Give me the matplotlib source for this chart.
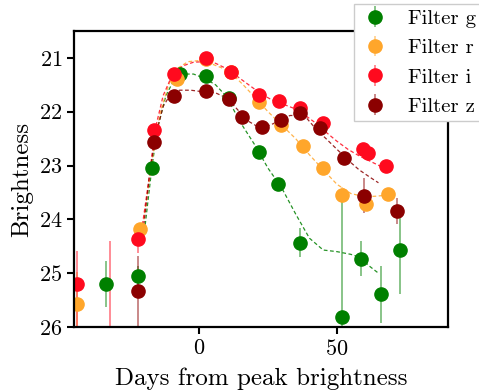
import numpy as np
import matplotlib
matplotlib.use("Agg")
import matplotlib.pyplot as plt

plt.rcParams['font.family'] = ['cmr10', 'DejaVu Serif']
plt.rcParams['mathtext.fontset'] = 'cm'
plt.rcParams['axes.formatter.use_mathtext'] = True

# observed points: days from peak, magnitude, error (towards bright / towards faint)
g_days = [-33.7, -22.0, -17.0, -6.9, 2.5, 10.9, 21.7, 28.6, 36.7, 51.7, 58.8, 65.8, 72.8]
g_mag = [25.20, 25.06, 23.04, 21.30, 21.33, 21.74, 22.75, 23.34, 24.43, 25.82, 24.73, 25.39, 24.57]
g_err_lo = [0.42, 0.20, 0.08, 0.04, 0.04, 0.05, 0.08, 0.10, 0.27, 2.27, 0.33, 0.53, 0.82]
g_err_hi = [0.42, 0.20, 0.08, 0.04, 0.04, 0.05, 0.08, 0.10, 0.27, 2.27, 0.33, 0.53, 0.82]

r_days = [-44.2, -21.4, -8.0, 2.5, 11.6, 21.7, 29.7, 37.7, 44.9, 51.7, 60.5, 68.6]
r_mag = [25.57, 24.18, 21.39, 21.02, 21.27, 21.82, 22.24, 22.64, 23.05, 23.55, 23.71, 23.53]
r_err_lo = [0.60, 0.12, 0.05, 0.04, 0.04, 0.05, 0.06, 0.07, 0.08, 0.15, 0.12, 0.12]
r_err_hi = [0.60, 0.12, 0.05, 0.04, 0.04, 0.05, 0.06, 0.07, 0.08, 0.15, 0.12, 0.12]

i_days = [-44.2, -32.2, -22.0, -16.2, -9.2, 2.5, 11.6, 21.7, 28.9, 36.6, 44.8, 59.3, 61.2, 67.8]
i_mag = [25.20, 26.60, 24.37, 22.34, 21.29, 21.00, 21.27, 21.69, 21.80, 21.94, 22.21, 22.70, 22.77, 23.00]
i_err_lo = [0.61, 2.20, 0.25, 0.05, 0.03, 0.03, 0.03, 0.04, 0.05, 0.05, 0.06, 0.08, 0.08, 0.10]
i_err_hi = [0.85, 0.50, 0.25, 0.05, 0.03, 0.03, 0.03, 0.04, 0.05, 0.05, 0.06, 0.08, 0.08, 0.10]

z_days = [-22.2, -16.2, -9.2, 2.5, 10.9, 15.7, 22.7, 29.7, 36.6, 43.8, 52.5, 59.8, 71.6]
z_mag = [25.34, 22.57, 21.71, 21.61, 21.77, 22.09, 22.29, 22.15, 22.02, 22.31, 22.86, 23.56, 23.84]
z_err_lo = [0.66, 0.06, 0.04, 0.04, 0.04, 0.05, 0.06, 0.07, 0.08, 0.10, 0.12, 0.33, 0.24]
z_err_hi = [0.70, 0.06, 0.04, 0.04, 0.04, 0.05, 0.06, 0.07, 0.08, 0.10, 0.12, 0.33, 0.24]

# fitted light curves (dashed)
g_fit_days = [-19.5, -17, -15, -12, -9, -6, -2, 2, 6, 10, 15, 20, 25, 30, 35, 40, 45, 50, 55, 58, 62, 65]
g_fit_mag = [24.1, 23.0, 22.3, 21.7, 21.4, 21.3, 21.3, 21.38, 21.5, 21.72, 22.2, 22.6, 23.05, 23.42, 23.9, 24.35, 24.57, 24.6, 24.65, 24.7, 24.88, 25.0]

r_fit_days = [-20, -17, -14, -11, -8, -4, 0, 4, 8, 12, 16, 20, 25, 30, 35, 40, 45, 50, 55, 60, 64, 68]
r_fit_mag = [24.0, 22.9, 22.0, 21.5, 21.2, 21.07, 21.05, 21.1, 21.18, 21.3, 21.5, 21.72, 22.0, 22.25, 22.5, 22.8, 23.08, 23.35, 23.52, 23.58, 23.57, 23.55]

i_fit_days = [-20.5, -18, -16, -13, -10, -6, -2, 2, 6, 10, 14, 18, 22, 26, 30, 34, 38, 42, 46, 50, 54, 58, 62, 66]
i_fit_mag = [24.1, 23.2, 22.35, 21.7, 21.35, 21.15, 21.08, 21.07, 21.1, 21.2, 21.35, 21.5, 21.65, 21.77, 21.85, 21.93, 22.05, 22.2, 22.38, 22.55, 22.7, 22.82, 22.92, 23.02]

z_fit_days = [-20, -18, -16, -13, -10, -7, -3, 0, 3, 6, 9, 12, 15, 18, 21, 24, 27, 30, 33, 36, 39, 42, 46, 50, 54, 58, 62, 65]
z_fit_mag = [24.1, 23.2, 22.5, 21.9, 21.65, 21.6, 21.6, 21.62, 21.63, 21.65, 21.72, 21.85, 22.02, 22.18, 22.27, 22.28, 22.22, 22.13, 22.07, 22.07, 22.12, 22.3, 22.5, 22.7, 22.9, 23.08, 23.22, 23.32]

filters = [
    ('g', 'green', g_days, g_mag, g_err_lo, g_err_hi, g_fit_days, g_fit_mag),
    ('r', '#ffa62b', r_days, r_mag, r_err_lo, r_err_hi, r_fit_days, r_fit_mag),
    ('i', '#ff0a1e', i_days, i_mag, i_err_lo, i_err_hi, i_fit_days, i_fit_mag),
    ('z', '#8b0000', z_days, z_mag, z_err_lo, z_err_hi, z_fit_days, z_fit_mag),
]

fig = plt.figure(figsize=(4.79, 3.91), dpi=100)
ax = fig.add_axes([74 / 479, 1 - 327 / 391, 374 / 479, 296 / 391])

for name, color, days, mag, lo, hi, fdays, fmag in filters:
    ax.plot(fdays, fmag, linestyle=(0, (3, 2)), color=color, linewidth=0.9, alpha=0.85)
    eb = ax.errorbar(days, mag, yerr=[lo, hi], fmt='o', color=color, markersize=9.5,
                     ecolor=color, elinewidth=1.3, capsize=0, label='Filter ' + name)
    for line in eb[2]:
        line.set_alpha(0.5)

ax.set_xlim(-45.3, 90.2)
ax.set_ylim(26, 20.5)
ax.set_xticks([0, 50])
ax.set_yticks([21, 22, 23, 24, 25, 26])
ax.tick_params(labelsize=16, width=1.5, length=5)
for s in ax.spines.values():
    s.set_linewidth(1.6)
ax.set_xlabel('Days from peak brightness', fontsize=18, labelpad=6)
ax.set_ylabel('Brightness', fontsize=18, labelpad=4)

fig.legend(loc='upper left', bbox_to_anchor=(354 / 479, 1 - 4 / 391), fontsize=15,
           fancybox=False, edgecolor='0.8', framealpha=1, labelspacing=0.52,
           borderaxespad=0, borderpad=0.25, handlelength=1.5, handletextpad=0.85)

fig.savefig('out.png', dpi=100)
